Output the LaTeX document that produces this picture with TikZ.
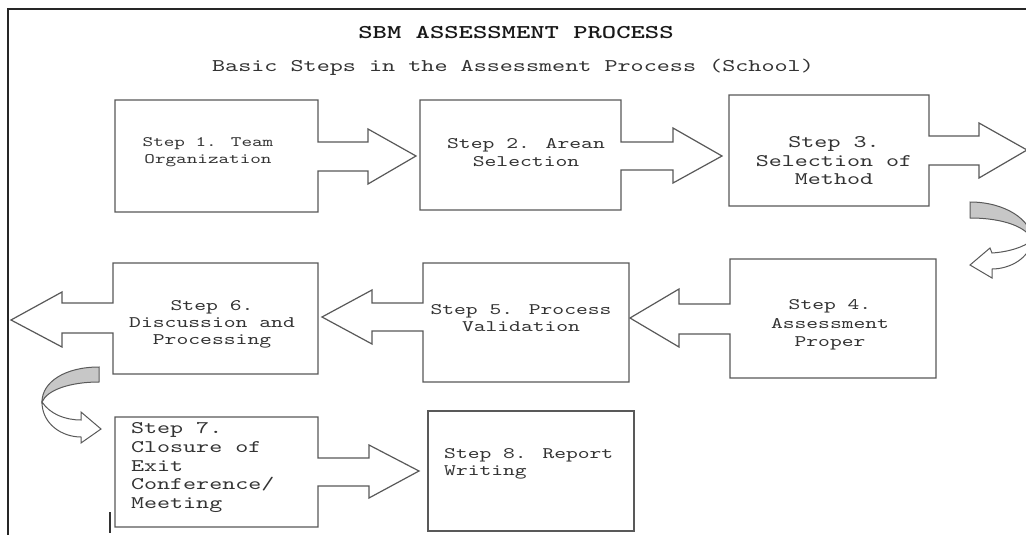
\documentclass[tikz,border=0pt]{standalone}
\usepackage{fontspec}
\newfontfamily\typefont[Extension=.otf, FakeStretch=1.4,
  BoldFont=lmmonolt10-bold]{lmmono10-regular}
\tikzset{
  callout/.style={draw=black!65, line width=1.2pt, line join=miter, fill=white},
  bendback/.style={draw=black!65, line width=1pt, fill=black!22},
  bendfront/.style={draw=black!65, line width=1pt, fill=white},
  steptext/.style 2 args={font=\typefont\fontsize{#1}{#2}\selectfont,
    text=black!80, inner sep=0pt, align=center}
}

\begin{document}
\begin{tikzpicture}[x=1pt,y=-1pt]
\useasboundingbox (0,0) rectangle (1026,535);
\clip (0,0) rectangle (1026,535);
\fill[white] (0,0) rectangle (1026,535);
\draw[line width=2pt, black!85] (8,535) -- (8,9) -- (1026,9);

\node[font=\typefont\bfseries\fontsize{19.5}{22}\selectfont, text=black!90] (title) at (516,33) {SBM ASSESSMENT PROCESS};
\node[steptext={17.8}{20}] (sub) at (513,67) {Basic Steps in the Assessment Process (School)};

% first row, pointing right
\draw[callout] (115,100) -- (318,100) -- (318,142) -- (368,142) -- (368,129) --
  (416,156) -- (368,184) -- (368,171) -- (318,171) -- (318,212) -- (115,212) -- cycle;
\draw[callout] (420,100) -- (621,100) -- (621,142) -- (673,142) -- (673,128) --
  (722,156) -- (673,183) -- (673,170) -- (621,170) -- (621,210) -- (420,210) -- cycle;
\draw[callout] (729,95) -- (929,95) -- (929,136) -- (979,136) -- (979,123) --
  (1027,150) -- (979,178) -- (979,165) -- (929,165) -- (929,206) -- (729,206) -- cycle;

% second row, pointing left
\draw[callout] (936,259) -- (730,259) -- (730,304) -- (679,304) -- (679,289) --
  (630,318) -- (679,347) -- (679,334) -- (730,334) -- (730,378) -- (936,378) -- cycle;
\draw[callout] (629,263) -- (423,263) -- (423,303) -- (372,303) -- (372,290) --
  (322,317) -- (372,344) -- (372,331) -- (423,331) -- (423,382) -- (629,382) -- cycle;
\draw[callout] (318,263) -- (113,263) -- (113,303) -- (62,303) -- (62,292) --
  (11,320) -- (62,347) -- (62,333) -- (113,333) -- (113,374) -- (318,374) -- cycle;

% third row
\draw[callout] (115,417) -- (318,417) -- (318,458) -- (369,458) -- (369,445) --
  (419,471) -- (369,498) -- (369,486) -- (318,486) -- (318,527) -- (115,527) -- cycle;
\draw[callout] (428,411) rectangle (634,531);

% turning arrows
\draw[bendback] (970,202) .. controls (1005,202) and (1032,220) .. (1032,240)
  .. controls (1028,228) and (1005,218) .. (970,218) -- cycle;
\draw[bendfront] (1032,240) .. controls (1030,258) and (1010,269) .. (992,269) --
  (992,278) -- (970,265) -- (990,248) -- (992,253)
  .. controls (1008,252) and (1025,247) .. (1032,240) -- cycle;
\draw[bendback] (99,367) .. controls (65,367) and (42,382) .. (42,402)
  .. controls (47,390) and (70,382) .. (99,382) -- cycle;
\draw[bendfront] (42,402) .. controls (42,424) and (62,437) .. (81,437) --
  (81,443) -- (101,429) -- (81,412) -- (81,420)
  .. controls (65,420) and (50,414) .. (42,402) -- cycle;

\node[steptext={14.4}{17}] (s1) at (208,152.5) {Step 1. Team\\Organization};
\node[steptext={16.1}{18}] (s2) at (526,153) {Step 2. Arean\\Selection};
\node[steptext={17.7}{18.5}] (s3) at (834,161) {Step 3.\\Selection of\\Method};
\node[steptext={16.05}{18.5}] (s4) at (830,325) {Step 4.\\Assessment\\Proper};
\node[steptext={16.05}{17}] (s5) at (521,318) {Step 5. Process\\Validation};
\node[steptext={16.1}{17}] (s6) at (212,324) {Step 6.\\Discussion and\\Processing};
\node[steptext={17.7}{18.75}, align=left, anchor=west] (s7) at (131,467.5)
  {Step 7.\\Closure of\\Exit\\Conference/\\Meeting};
\node[steptext={16.05}{17}, align=left, anchor=west] (s8) at (444,463.5)
  {Step 8. Report\\Writing};

\draw[line width=1.5pt, black!80] (110,512) -- (110,533);
\end{tikzpicture}
\end{document}
